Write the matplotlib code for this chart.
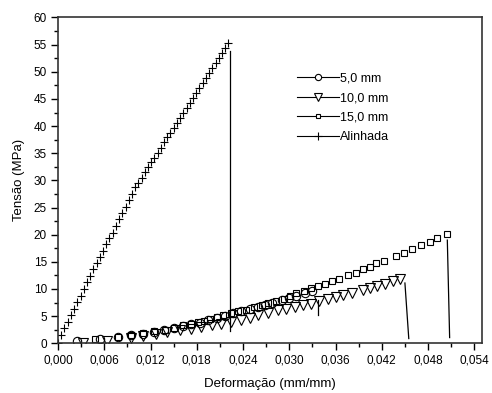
import matplotlib.pyplot as plt
from matplotlib.lines import Line2D
from matplotlib.ticker import MultipleLocator, FuncFormatter

plt.rcParams['font.family'] = ['Liberation Sans', 'DejaVu Sans']

# Alinhada (+)
strain_al = [0, 0.00042, 0.00083, 0.00125, 0.00167, 0.00208, 0.0025, 0.00292, 0.00334,
             0.00375, 0.00417, 0.00459, 0.005, 0.00542, 0.00584, 0.00626, 0.00667,
             0.00709, 0.00751, 0.00792, 0.00834, 0.00876, 0.00917, 0.00959, 0.01001,
             0.01042, 0.01084, 0.01126, 0.01168, 0.01209, 0.01251, 0.01293, 0.01334,
             0.01376, 0.01418, 0.01459, 0.01501, 0.01543, 0.01584, 0.01626, 0.01668,
             0.01709, 0.01751, 0.01793, 0.01834, 0.01876, 0.01918, 0.0196, 0.02001,
             0.02043, 0.02085, 0.02126, 0.02168, 0.0221]
stress_al = [0, 1.6, 2.8, 4.0, 5.2, 6.4, 7.6, 8.8, 10.0, 11.2, 12.4, 13.6, 14.8, 15.9,
             17.0, 18.2, 19.3, 20.4, 21.6, 22.8, 24.0, 25.1, 26.3, 27.5, 28.7, 29.6,
             30.5, 31.5, 32.4, 33.3, 34.2, 35.1, 36.0, 37.0, 37.9, 38.8, 39.7, 40.6,
             41.5, 42.5, 43.4, 44.3, 45.2, 46.1, 47.0, 47.9, 48.9, 49.8, 50.7, 51.6,
             52.5, 53.4, 54.3, 55.3]

# 5,0 mm (circles)
strain_5 = [0.0025, 0.0055, 0.0078, 0.0095, 0.011, 0.0125, 0.0138, 0.015, 0.0162,
            0.0173, 0.0184, 0.0195, 0.0206, 0.0216, 0.0227, 0.0238, 0.0249, 0.0259,
            0.0268, 0.0277, 0.0291, 0.03, 0.0309, 0.032, 0.033]
stress_5 = [0.5, 0.8, 1.2, 1.5, 1.8, 2.1, 2.5, 2.8, 3.1, 3.5, 3.8, 4.2, 4.6, 5.1, 5.5,
            5.9, 6.3, 6.7, 7.1, 7.5, 7.9, 8.3, 8.8, 9.3, 9.6]

# 10,0 mm (triangles)
strain_10 = [0.0032, 0.0063, 0.0095, 0.011, 0.0127, 0.0141, 0.0158, 0.0172, 0.0186,
             0.02, 0.0212, 0.0224, 0.0237, 0.0249, 0.026, 0.0272, 0.0285, 0.0296,
             0.0307, 0.0318, 0.0328, 0.0338, 0.035, 0.036, 0.037, 0.0381, 0.0395,
             0.0405, 0.0414, 0.0424, 0.0434, 0.0444]
stress_10 = [0.1, 0.4, 1.0, 1.3, 1.7, 2.1, 2.4, 2.7, 3.0, 3.3, 3.6, 3.9, 4.2, 4.7, 5.2,
             5.5, 6.1, 6.4, 6.7, 7.0, 7.3, 7.7, 8.2, 8.5, 8.9, 9.2, 9.8, 10.1, 10.5,
             11.0, 11.4, 11.8]

# 15,0 mm (squares)
strain_15 = [0.0048, 0.0078, 0.0095, 0.011, 0.0125, 0.0139, 0.0151, 0.0162, 0.0173,
             0.0182, 0.019, 0.0197, 0.0206, 0.0214, 0.0224, 0.0234, 0.0244, 0.0254,
             0.0264, 0.0273, 0.0283, 0.0293, 0.0301, 0.0309, 0.0319, 0.0328, 0.0337,
             0.0346, 0.0355, 0.0364, 0.0376, 0.0386, 0.0395, 0.0405, 0.0413, 0.0423,
             0.0438, 0.0449, 0.0459, 0.0471, 0.0482, 0.0492, 0.0504]
stress_15 = [0.85, 1.1, 1.5, 1.9, 2.2, 2.5, 2.9, 3.3, 3.6, 3.9, 4.1, 4.4, 4.8, 5.2, 5.6,
             5.9, 6.2, 6.7, 7.0, 7.4, 7.8, 8.2, 8.7, 9.2, 9.7, 10.1, 10.6, 11.0, 11.4,
             11.8, 12.5, 13.0, 13.6, 14.1, 14.7, 15.2, 16.0, 16.6, 17.3, 18.1, 18.7,
             19.4, 20.1]

# rupture drops: ([x0, x1], [y0, y1])
drops = [
    ([0.02236, 0.02236], [53.8, 2.2]),
    ([0.0337, 0.0337], [7.9, 5.2]),
    ([0.0450, 0.0455], [11.1, 0.87]),
    ([0.0505, 0.0508], [19.0, 1.05]),
]

fig = plt.figure(figsize=(4.92, 3.93), dpi=100)
ax = fig.add_axes([0.1179, 0.1265, 0.8618, 0.829])

mk = dict(linestyle='none', markerfacecolor='none', markeredgecolor='black',
          markeredgewidth=0.8)
ax.plot(strain_5, stress_5, marker='o', markersize=6, **mk)
ax.plot(strain_10, stress_10, marker='v', markersize=7, **mk)
ax.plot(strain_15, stress_15, marker='s', markersize=3.8, **mk)
ax.plot(strain_al, stress_al, marker='+', markersize=5.5, **mk)

for xs, ys in drops:
    ax.plot(xs, ys, color='black', linewidth=0.9)

ax.set_xlim(0, 0.055)
ax.set_ylim(0, 60)
ax.xaxis.set_major_locator(MultipleLocator(0.006))
ax.xaxis.set_minor_locator(MultipleLocator(0.003))
ax.yaxis.set_major_locator(MultipleLocator(5))
ax.yaxis.set_minor_locator(MultipleLocator(2.5))
ax.xaxis.set_major_formatter(FuncFormatter(lambda v, p: f'{v:.3f}'.replace('.', ',')))
ax.tick_params(which='major', direction='out', length=5, width=1, labelsize=8.5,
               top=False, right=False, pad=3)
ax.tick_params(which='minor', direction='out', length=3, width=1, top=False, right=False)
for s in ax.spines.values():
    s.set_linewidth(1.2)
    s.set_color('#333333')

ax.set_xlabel('Deformação (mm/mm)', fontsize=9.5, labelpad=8)
ax.set_ylabel('Tensão (MPa)', fontsize=9.5, labelpad=6)

handles = [
    Line2D([], [], color='black', lw=0.8, marker='o', markersize=4.5,
           markerfacecolor='white', markeredgewidth=0.8),
    Line2D([], [], color='black', lw=0.8, marker='v', markersize=6,
           markerfacecolor='white', markeredgewidth=0.8),
    Line2D([], [], color='black', lw=0.8, marker='s', markersize=3.2,
           markerfacecolor='white', markeredgewidth=0.8),
    Line2D([], [], color='black', lw=0.8, marker='+', markersize=5.5,
           markeredgewidth=0.8),
]
ax.legend(handles, ['5,0 mm', '10,0 mm', '15,0 mm', 'Alinhada'], loc='upper left',
          bbox_to_anchor=(0.55, 0.85), frameon=False, fontsize=9, handlelength=3.3,
          handletextpad=0.1, labelspacing=0.6, borderpad=0, numpoints=1)

plt.savefig('out.png', dpi=100)
